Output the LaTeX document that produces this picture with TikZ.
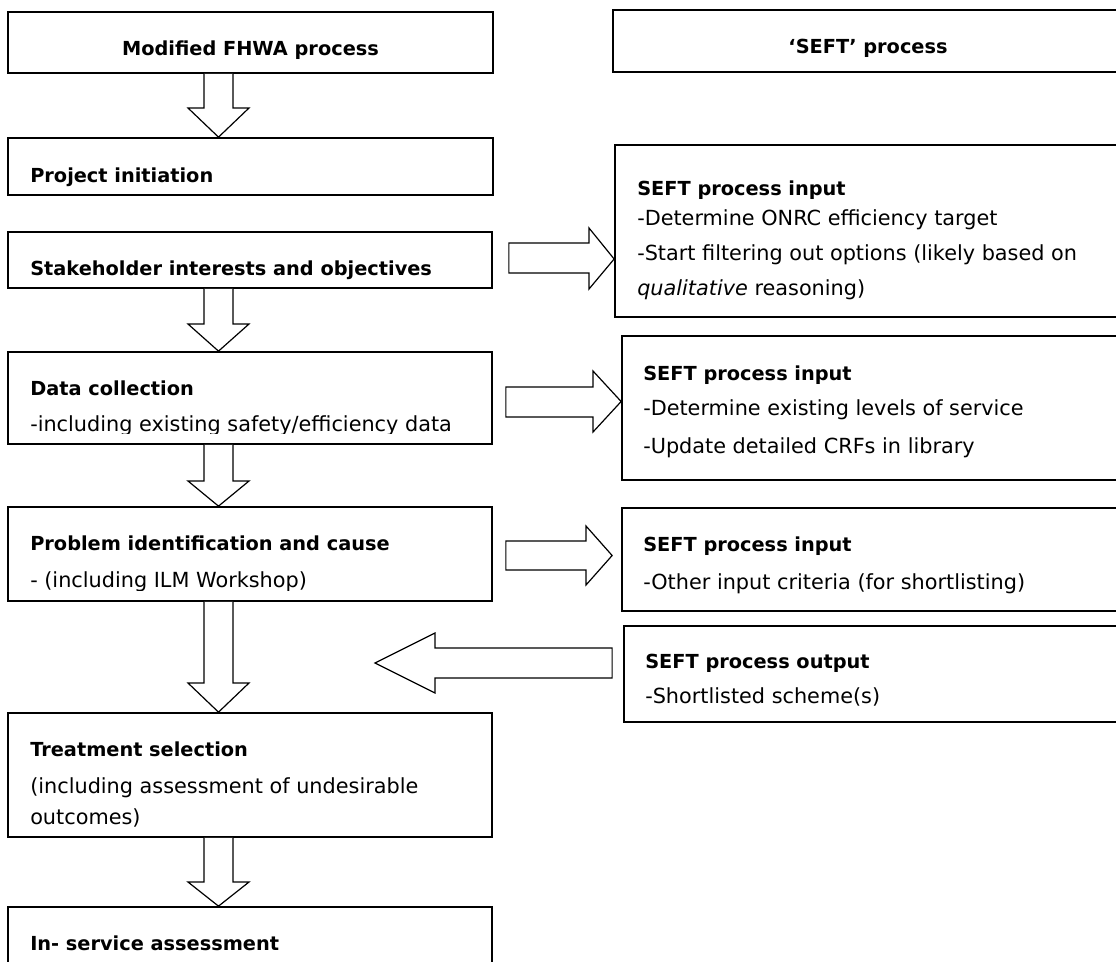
\documentclass[tikz,border=0pt]{standalone}
\usepackage{fontspec}
\setmainfont{DejaVu Sans}
\usetikzlibrary{calc,fit}
\newcommand{\dblk}[3]{%
  \draw[blk] (204,0 |- #1.south) -- (204,#3) -- (188,#3) -- (218.5,0 |- #2.north)
    -- (249,#3) -- (233,#3) -- (233,0 |- #1.south);}
\begin{document}
\begin{tikzpicture}[x=0.75pt,y=-0.75pt,
  box/.style={draw=black, line width=1.3pt, inner sep=0pt},
  blk/.style={draw=black, line width=0.9pt, line join=miter, fill=white},
  tb/.style={anchor=base west, inner sep=0pt, font=\fontsize{14.5pt}{17pt}\selectfont\bfseries},
  tr/.style={anchor=base west, inner sep=0pt, font=\fontsize{15.6pt}{18pt}\selectfont},
]
\useasboundingbox (0,0) rectangle (1116,961);
\clip (0,0) rectangle (1116,961);

% boxes
\node[box, fit={(8,12)(493,73)}] (fhwa) {};
\node[box, fit={(613,10)(1125,72)}] (seft) {};
\node[box, fit={(8,138)(493,195)}] (init) {};
\node[box, fit={(615,145)(1125,317)}] (in1) {};
\node[box, fit={(8,232)(492,288)}] (stake) {};
\node[box, fit={(8,352)(492,444)}] (data) {};
\node[box, fit={(622,336)(1125,480)}] (in2) {};
\node[box, fit={(8,507)(492,601)}] (prob) {};
\node[box, fit={(622,508)(1125,611)}] (in3) {};
\node[box, fit={(624,626)(1125,722)}] (out) {};
\node[box, fit={(8,713)(492,837)}] (treat) {};
\node[box, fit={(8,907)(492,975)}] (insv) {};

% texts
\node[tb, anchor=base] (fhwa-t) at (250.5,55) {Modified FHWA process};
\node[tb, anchor=base] (seft-t) at (868,53) {‘SEFT’ process};
\node[tb] (init-t) at (30,182) {Project initiation};
\node[tb] (in1-t) at (637,195) {SEFT process input};
\node[tr] (in1-a) at (637,225) {-Determine ONRC efficiency target};
\node[tr] (in1-b) at (637,260) {-Start filtering out options (likely based on};
\node[tr] (in1-c) at (637,295) {\textit{qualitative} reasoning)};
\node[tb] (stake-t) at (30,275) {Stakeholder interests and objectives};
\node[tb] (data-t) at (30,395) {Data collection};
\begin{scope}
  \clip (0,300) rectangle (500,433);
  \node[tr] (data-a) at (30,431) {-including existing safety/efficiency data};
\end{scope}
\node[tb] (in2-t) at (643,380) {SEFT process input};
\node[tr] (in2-a) at (643,415) {-Determine existing levels of service};
\node[tr] (in2-b) at (643,453) {-Update detailed CRFs in library};
\node[tb] (prob-t) at (30,550) {Problem identification and cause};
\begin{scope}
  \clip (0,500) rectangle (500,590);
  \node[tr] (prob-a) at (30,587) {- (including ILM Workshop)};
\end{scope}
\node[tb] (in3-t) at (643,551) {SEFT process input};
\node[tr] (in3-a) at (643,589) {-Other input criteria (for shortlisting)};
\node[tb] (out-t) at (645,668) {SEFT process output};
\node[tr] (out-a) at (645,703) {-Shortlisted scheme(s)};
\node[tb] (treat-t) at (30,756) {Treatment selection};
\node[tr] (treat-a) at (30,793) {(including assessment of undesirable};
\node[tr] (treat-b) at (30,824) {outcomes)};
\node[tb] (insv-t) at (30,950) {In- service assessment};

% down block arrows
\dblk{fhwa}{init}{108}
\dblk{stake}{data}{324}
\dblk{data}{prob}{481}
\dblk{prob}{treat}{683}
\dblk{treat}{insv}{882}

% right block arrows
\coordinate (r1s) at ($(stake.east |- 0,243)+(16,0)$);
\draw[blk] (r1s) -- (589,243) -- (589,228) -- (in1.west |- 0,259) -- (589,289) -- (589,273) -- (r1s |- 0,273) -- cycle;
\coordinate (r2s) at ($(data.east |- 0,387)+(13,0)$);
\draw[blk] (r2s) -- (593,387) -- (593,371) -- (in2.west |- 0,401.5) -- (593,432) -- (593,417) -- (r2s |- 0,417) -- cycle;
\coordinate (r3s) at ($(prob.east |- 0,541)+(13,0)$);
\coordinate (r3t) at ($(in3.west |- 0,555.5)+(-9,0)$);
\draw[blk] (r3s) -- (586,541) -- (586,526) -- (r3t) -- (586,585) -- (586,570) -- (r3s |- 0,570) -- cycle;
% left block arrow
\coordinate (ls) at ($(out.west |- 0,648)+(-11,0)$);
\coordinate (lt) at (375,663);
\draw[blk] (ls) -- (435,648) -- (435,633) -- (lt) -- (435,693) -- (435,678) -- (ls |- 0,678) -- cycle;
\end{tikzpicture}
\end{document}
